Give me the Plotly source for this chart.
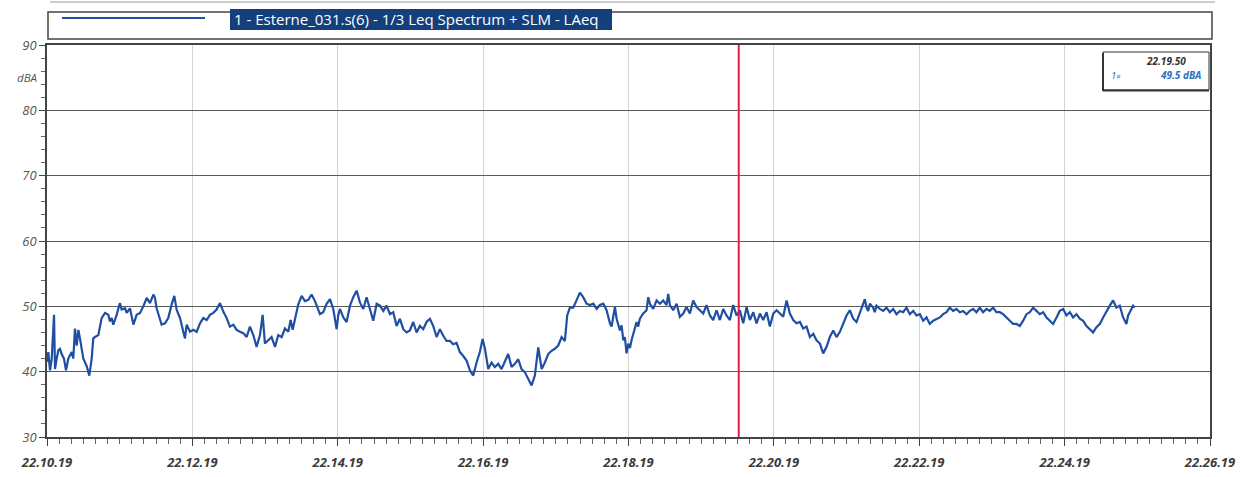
import plotly.graph_objects as go
import pandas as pd

# ---------------- data ----------------
start_time = "2019-01-01 22:10:19"
end_time = "2019-01-01 22:26:19"
cursor_time = "2019-01-01 22:19:50"
cursor_label = "22.19.50"
cursor_value = 49.5
series_name = "1 - Esterne_031.s(6) - 1/3 Leq Spectrum + SLM - LAeq"
y_unit = "dBA"

# seconds after 22.10.19
t_seg1 = [0, 1.1, 2.5, 3.9, 5.8, 6.6, 8.0, 9.4, 10.7, 12.1,
          14.0, 15.7, 17.6, 20.4, 21.7, 23.1, 24.5, 25.9, 27.2, 28.6,
          30.0, 32.7, 34.9, 36.9, 38.2, 39.6, 42.4, 45.1, 47.9, 50.6,
          52.0, 53.4, 54.7, 57.5, 60.2, 61.6, 64.4, 65.8, 68.5, 71.3,
          74.0, 76.8, 79.5, 82.3, 85.0, 87.8, 89.1, 90.5, 93.3, 94.6,
          97.4, 100.1, 102.9, 105.1, 107.0, 109.8, 112.5, 113.9, 115.3, 118.0,
          120.8, 123.5, 126.3, 129.0, 131.8, 134.5, 137.3, 140.0, 142.8, 145.5,
          148.3, 151.0, 153.8, 156.5, 159.3, 162.0, 164.8, 167.5, 170.3, 173.0,
          175.8, 178.0, 179.9, 182.6, 185.4, 188.2, 190.9, 193.7, 196.4, 199.2,
          201.1, 202.8, 204.7, 207.4, 210.2, 212.9, 215.7, 218.4, 221.2]
laeq_seg1 = [41.5, 43.0, 40.2, 42.0, 48.7, 40.4, 42.0, 43.3, 43.5, 42.7,
             42.0, 40.2, 42.0, 43.0, 42.0, 46.6, 44.0, 46.4, 45.1, 43.5,
             42.0, 40.9, 39.4, 42.0, 45.1, 45.3, 45.6, 48.2, 49.0, 48.7,
             47.7, 48.2, 47.2, 48.7, 50.5, 49.5, 49.7, 49.0, 49.7, 47.2,
             48.7, 49.0, 50.0, 51.3, 50.5, 51.8, 51.3, 49.7, 48.2, 47.2,
             47.4, 48.2, 50.3, 51.6, 49.5, 48.2, 46.1, 45.1, 47.2, 46.1,
             46.4, 46.1, 47.4, 48.2, 47.9, 48.7, 49.0, 49.5, 50.5, 49.2,
             48.2, 46.9, 47.2, 46.4, 46.1, 45.9, 45.3, 46.9, 45.6, 43.8,
             45.6, 48.7, 44.3, 44.8, 45.3, 43.8, 45.6, 45.3, 46.6, 46.1,
             47.9, 46.4, 48.2, 50.3, 51.6, 50.8, 51.0, 51.8, 50.8]

t_seg2 = [225.3, 228.0, 230.8, 233.6, 236.3, 239.1, 240.4, 241.8, 244.6, 247.3,
          250.1, 252.8, 255.6, 258.3, 261.1, 263.8, 266.6, 269.3, 272.1, 274.8,
          277.6, 280.3, 283.1, 285.8, 288.6, 291.3, 294.1, 296.8, 299.6, 302.3,
          305.1, 307.8, 310.6, 313.3, 316.1, 318.8, 321.6, 324.3, 327.1, 329.8,
          332.6, 335.3, 338.1, 340.8, 343.6, 346.3, 349.1, 351.8, 354.6, 357.3,
          359.6, 361.5, 364.2, 367.0, 369.7, 372.5, 375.2, 378.0, 380.7, 383.5,
          386.2, 389.0, 391.7, 394.5, 397.2, 400.0, 402.7, 405.5, 408.3, 411.0,
          413.7, 416.5, 419.2, 422.0, 424.8, 427.5, 429.4, 431.6, 434.4, 437.1,
          439.9, 442.6, 445.4]
laeq_seg2 = [48.8, 49.1, 50.4, 51.1, 49.6, 46.5, 48.6, 49.6, 48.3, 47.6,
             50.1, 51.4, 52.4, 50.6, 49.6, 51.4, 49.6, 47.8, 50.4, 50.1,
             49.3, 50.1, 48.8, 49.1, 47.0, 48.1, 46.5, 46.0, 46.3, 47.6,
             46.0, 47.0, 46.5, 47.6, 48.1, 47.0, 45.3, 46.5, 45.5, 44.7,
             44.7, 44.2, 44.4, 43.0, 42.4, 41.7, 40.2, 39.4, 41.4, 43.0,
             45.0, 43.5, 40.4, 41.4, 40.7, 41.2, 40.4, 41.7, 42.7, 40.7,
             41.2, 41.9, 40.4, 39.9, 38.9, 37.9, 39.4, 43.7, 40.4, 41.4,
             42.7, 43.2, 43.5, 44.0, 45.3, 44.7, 48.6, 49.8, 49.8, 50.9,
             52.1, 51.4, 50.4]

t_seg3 = [448.2, 450.9, 453.7, 456.4, 459.2, 461.9, 464.7, 466.0, 467.4, 468.8,
          470.2, 472.9, 474.3, 475.7, 477.0, 478.4, 479.8, 481.2, 482.5, 483.9,
          485.3, 486.7, 488.0, 489.4, 492.2, 494.9, 496.3, 497.7, 500.4, 503.2,
          505.9, 508.7, 511.4, 512.8, 514.2, 516.9, 519.7, 522.4, 525.2, 527.9,
          530.7, 533.4, 536.2, 538.9, 541.7, 544.4, 547.2, 549.9, 552.7, 555.4,
          558.2, 560.9, 563.7, 566.4, 569.2, 571.9, 574.7, 577.5, 580.2, 583.0,
          585.7, 588.5, 591.2, 594.0, 596.7, 599.5, 602.2, 605.0, 607.7, 610.5,
          613.2, 616.0, 618.7, 621.5, 624.2, 627.0, 629.7, 632.5, 635.2, 638.0,
          640.7, 643.5, 646.2, 649.0, 651.7, 654.5, 657.2, 660.0, 662.7, 665.5,
          668.2, 671.0]
laeq_seg3 = [50.2, 50.4, 49.6, 50.2, 50.4, 49.4, 47.4, 46.9, 48.4, 49.9,
             48.1, 46.3, 47.1, 44.8, 45.3, 42.8, 44.3, 43.6, 44.8, 45.8,
             46.6, 47.6, 46.9, 48.1, 48.9, 49.4, 51.4, 50.4, 49.6, 50.9,
             50.4, 50.9, 50.2, 51.9, 50.2, 49.4, 50.4, 48.4, 48.9, 49.9,
             48.9, 50.9, 49.9, 49.4, 48.9, 50.2, 48.6, 47.9, 49.4, 47.9,
             49.6, 48.6, 47.9, 50.2, 48.6, 49.4, 47.4, 49.9, 47.9, 49.1,
             47.4, 48.9, 47.9, 49.1, 46.9, 48.9, 49.4, 48.9, 48.4, 50.9,
             48.9, 47.9, 47.4, 47.6, 46.6, 46.9, 45.3, 45.8, 44.8, 44.3,
             42.8, 43.8, 45.3, 46.3, 45.3, 46.1, 47.4, 48.6, 49.4, 48.1,
             47.6, 48.9]

t_seg4 = [673.7, 675.1, 676.5, 677.8, 679.2, 681.9, 683.3, 684.7, 687.5, 690.2,
          693.0, 695.7, 698.5, 701.2, 704.0, 706.7, 709.5, 712.2, 715.0, 717.7,
          720.5, 723.2, 726.0, 728.7, 731.5, 734.2, 737.0, 739.7, 742.5, 745.2,
          748.0, 750.7, 753.5, 756.2, 759.0, 761.7, 764.5, 767.2, 770.0, 772.7,
          775.5, 778.2, 781.0, 783.7, 786.5, 789.2, 792.0, 794.7, 797.5, 800.3,
          803.0, 805.8, 808.5, 811.3, 814.0, 816.8, 819.5, 822.3, 825.0, 827.8,
          830.5, 833.3, 836.0, 838.8, 841.5, 844.3, 847.0, 849.8, 852.5, 855.3,
          858.0, 860.8, 863.5, 866.3, 869.0, 871.8, 874.5, 877.3, 880.0, 882.8,
          885.5, 888.3, 891.0, 892.4, 893.8, 896.5, 897.9]
laeq_seg4 = [50.4, 51.1, 49.8, 49.3, 50.4, 49.8, 49.1, 50.1, 49.6, 49.3,
             49.8, 49.1, 49.6, 48.8, 49.3, 49.1, 49.8, 48.8, 49.3, 48.6,
             48.8, 47.8, 48.3, 47.3, 47.8, 48.1, 48.3, 48.8, 49.1, 49.8,
             49.3, 49.6, 49.1, 49.3, 48.8, 49.3, 49.6, 49.1, 49.8, 49.1,
             49.6, 49.3, 49.8, 49.1, 49.1, 48.8, 48.3, 47.8, 47.3, 47.3,
             47.0, 47.8, 48.8, 49.1, 49.8, 49.3, 48.8, 49.1, 48.3, 47.8,
             47.3, 48.3, 49.3, 49.6, 48.6, 49.1, 48.3, 48.8, 48.1, 47.8,
             47.0, 46.5, 46.0, 46.8, 47.3, 48.3, 49.3, 50.1, 50.9, 49.8,
             50.1, 48.3, 47.3, 48.6, 49.1, 50.1, 49.8]

# ---------------- build ----------------
t_all = t_seg1 + t_seg2 + t_seg3 + t_seg4
v_all = laeq_seg1 + laeq_seg2 + laeq_seg3 + laeq_seg4
n = min(len(t_all), len(v_all))
base = pd.Timestamp(start_time)
x_all = [base + pd.Timedelta(seconds=s) for s in t_all[:n]]
v_all = v_all[:n]

W, H = 1247, 477
# plot area in page pixels
PL, PR, PT, PB = 47, 1210, 45, 437


def px(xp):
    return (xp - PL) / (PR - PL)


def py(yp):
    return (PB - yp) / (PB - PT)


LINE_BLUE = "#1f4fa3"
AX = "#444444"
FONT = "Open Sans, Liberation Sans, sans-serif"

fig = go.Figure()
fig.add_trace(go.Scatter(x=x_all, y=v_all, mode="lines",
                         line=dict(color=LINE_BLUE, width=2.2),
                         name=series_name, showlegend=False))

shapes = []
# cursor
shapes.append(dict(type="line", xref="x", yref="paper", x0=cursor_time, x1=cursor_time,
                   y0=0, y1=1, line=dict(color="#e0203c", width=2)))
# scan line at top
shapes.append(dict(type="line", xref="paper", yref="paper", x0=px(50), x1=px(1215),
                   y0=py(2), y1=py(2), line=dict(color="#9a9a9a", width=1)))
# legend box
shapes.append(dict(type="rect", xref="paper", yref="paper", x0=px(48), x1=px(1212),
                   y0=py(39), y1=py(12), line=dict(color=AX, width=1.5)))
shapes.append(dict(type="line", xref="paper", yref="paper", x0=px(62), x1=px(205),
                   y0=py(18), y1=py(18), line=dict(color=LINE_BLUE, width=2)))
shapes.append(dict(type="rect", xref="paper", yref="paper", x0=px(230), x1=px(612),
                   y0=py(30), y1=py(9), line=dict(width=0), fillcolor="#143f7d"))
# readout box
shapes.append(dict(type="rect", xref="paper", yref="paper", x0=px(1103), x1=px(1209),
                   y0=py(90), y1=py(52), line=dict(color="#333", width=1), fillcolor="white"))
shapes.append(dict(type="line", xref="paper", yref="paper", x0=px(1103), x1=px(1103),
                   y0=py(91), y1=py(53), line=dict(color="#333", width=2)))
shapes.append(dict(type="line", xref="paper", yref="paper", x0=px(1103), x1=px(1209),
                   y0=py(90.5), y1=py(90.5), line=dict(color="#333", width=2)))

annotations = [
    dict(text=series_name, xref="paper", yref="paper", x=px(232), y=py(19.5),
         xanchor="left", yanchor="middle", showarrow=False,
         font=dict(family=FONT, size=15, color="white")),
    dict(text=y_unit, xref="paper", yref="paper", x=px(39), y=py(78),
         xanchor="right", yanchor="middle", showarrow=False,
         font=dict(family=FONT, size=11.5, color="#555", style="italic")),
    dict(text=cursor_label, xref="paper", yref="paper", x=px(1166), y=py(61),
         xanchor="center", yanchor="middle", showarrow=False,
         font=dict(family=FONT, size=10, color="#333", style="italic", weight="bold")),
    dict(text="1»", xref="paper", yref="paper", x=px(1116), y=py(75),
         xanchor="center", yanchor="middle", showarrow=False,
         font=dict(family=FONT, size=9.5, color="#2a6fc0", style="italic")),
    dict(text=f"{cursor_value:.1f} {y_unit}", xref="paper", yref="paper", x=px(1180), y=py(75),
         xanchor="center", yanchor="middle", showarrow=False,
         font=dict(family=FONT, size=10, color="#2a6fc0", style="italic", weight="bold")),
]

fig.update_layout(
    width=W, height=H,
    margin=dict(l=PL, r=W - PR, t=PT, b=H - PB, pad=0, autoexpand=False),
    paper_bgcolor="white", plot_bgcolor="white",
    shapes=shapes, annotations=annotations,
    showlegend=False,
    xaxis=dict(
        type="date", range=[start_time, end_time], automargin=False,
        tick0=start_time, dtick=120000, tickformat="%H.%M.%S",
        ticks="outside", ticklen=7, tickcolor=AX, ticklabelstandoff=6,
        showgrid=True, gridcolor="#d4d4d4", gridwidth=1,
        showline=True, linecolor=AX, linewidth=1.5, mirror=True,
        zeroline=False,
        tickfont=dict(family=FONT, size=13, color="#3a3a3a", style="italic", weight="bold"),
        minor=dict(dtick=10000, tick0=start_time, ticks="outside", ticklen=5,
                   tickcolor="#666", showgrid=False),
    ),
    yaxis=dict(
        range=[30, 90], dtick=10, tick0=30, automargin=False,
        ticks="outside", ticklen=6, tickcolor=AX,
        showgrid=True, gridcolor="#5a5a5a", gridwidth=1.2,
        showline=True, linecolor=AX, linewidth=1.5, mirror=True,
        zeroline=False,
        tickfont=dict(family=FONT, size=13, color="#555", style="italic"),
        minor=dict(dtick=2, ticks="outside", ticklen=4, tickcolor="#666", showgrid=False),
    ),
)

# remove the default 8px page margin so the figure sits at the window's corner
fig.write_html("out.html",
               config={"displayModeBar": False},
               post_script="document.body.style.margin='0';document.body.style.overflow='hidden';")
